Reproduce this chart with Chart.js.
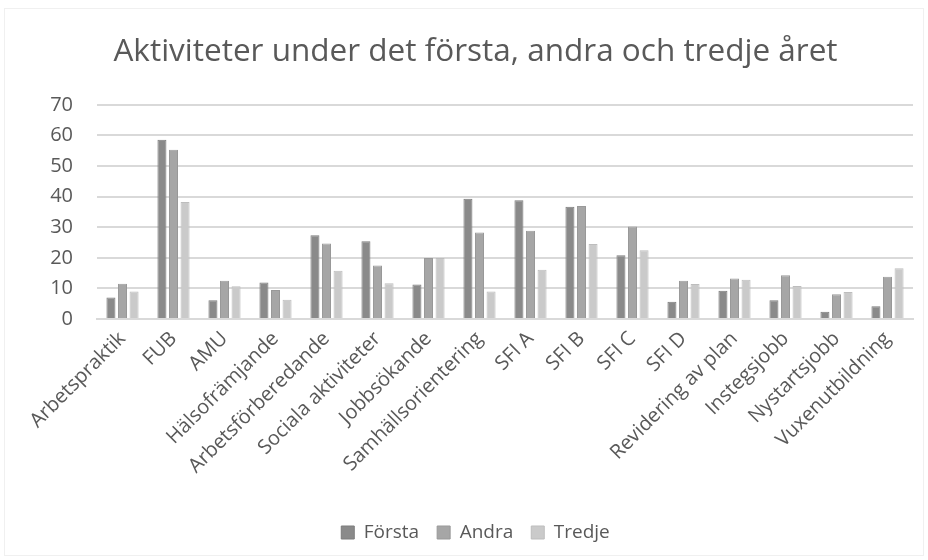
<!DOCTYPE html>
<html>
<head>
<meta charset="utf-8">
<script src="https://cdn.jsdelivr.net/npm/chart.js@4"></script>
<style>
html,body{margin:0;padding:0;background:#fff;}
#wrap{position:absolute;left:0;top:0;width:928px;height:560px;}
#frame{position:absolute;left:4px;top:8px;width:920px;height:548px;border:1px solid #f0f0f0;box-sizing:border-box;pointer-events:none;}
</style>
</head>
<body>
<div id="wrap"><canvas id="c" width="928" height="560"></canvas><div id="frame"></div></div>
<script>
const categories = ["Arbetspraktik","FUB","AMU","Hälsofrämjande","Arbetsförberedande","Sociala aktiviteter","Jobbsökande","Samhällsorientering","SFI A","SFI B","SFI C","SFI D","Revidering av plan","Instegsjobb","Nystartsjobb","Vuxenutbildning"];
const forsta = [7.0,58.6,6.1,11.9,27.4,25.4,11.3,39.3,38.8,36.7,20.8,5.6,9.2,6.1,2.4,4.2];
const andra  = [11.5,55.3,12.5,9.5,24.7,17.5,19.9,28.3,28.8,36.9,30.2,12.5,13.2,14.3,8.1,13.8];
const tredje = [9.0,38.2,10.7,6.3,15.8,11.7,19.9,9.0,16.1,24.5,22.5,11.4,12.8,10.8,8.8,16.6];
const seriesNames = ["Första","Andra","Tredje"];
const yTicks = [0,10,20,30,40,50,60,70];

const textColor = "#595959";
const fontFam = "'Open Sans', 'Noto Sans', sans-serif";

new Chart(document.getElementById('c'), {
  type: 'bar',
  data: {
    labels: categories,
    datasets: [
      {label: seriesNames[0], data: forsta, backgroundColor: '#8a8a8a', borderColor: '#7c7c7c', borderWidth: 1},
      {label: seriesNames[1], data: andra,  backgroundColor: '#a6a6a6', borderColor: '#999999', borderWidth: 1},
      {label: seriesNames[2], data: tredje, backgroundColor: '#cacaca', borderColor: '#bdbdbd', borderWidth: 1}
    ]
  },
  options: {
    responsive: false,
    animation: false,
    layout: {padding: {left: 38, right: 15, top: 0, bottom: 8}},
    datasets: {bar: {categoryPercentage: 0.68, barPercentage: 0.78}},
    plugins: {
      title: {
        display: true,
        text: 'Aktiviteter under det första, andra och tredje året',
        color: textColor,
        font: {family: fontFam, size: 31.5, weight: 'normal'},
        padding: {top: 33, bottom: 34}
      },
      legend: {
        position: 'bottom',
        labels: {
          color: textColor,
          font: {family: fontFam, size: 19},
          boxWidth: 13, boxHeight: 13,
          padding: 18
        }
      },
      tooltip: {enabled: false}
    },
    scales: {
      x: {
        grid: {display: false, drawTicks: false},
        border: {display: true, color: '#d9d9d9', width: 2},
        ticks: {
          color: textColor,
          font: {family: fontFam, size: 20},
          maxRotation: 45, minRotation: 45,
          autoSkip: false,
          padding: 8
        },
        afterFit: s => { s.height = 186; }
      },
      y: {
        min: 0, max: 70,
        afterBuildTicks: s => { s.ticks = yTicks.map(v => ({value: v})); },
        grid: {color: '#d9d9d9', lineWidth: 2, drawTicks: false},
        border: {display: false},
        ticks: {
          color: textColor,
          font: {family: fontFam, size: 20},
          padding: 24
        },
        afterFit: s => { s.width = 59; }
      }
    }
  }
});
</script>
</body>
</html>
